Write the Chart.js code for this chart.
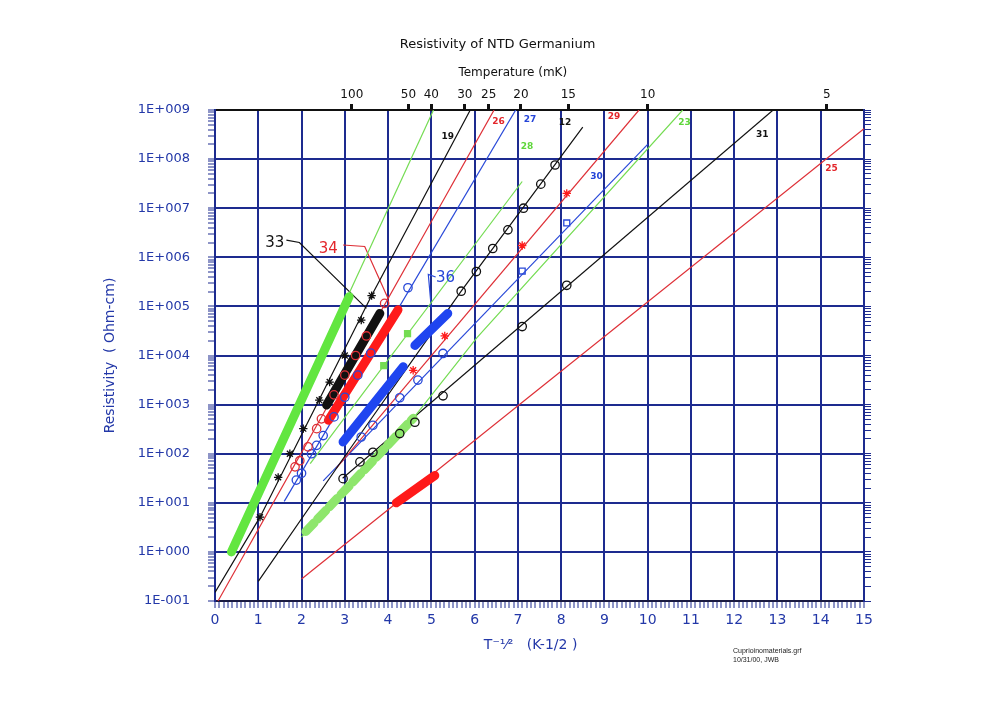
<!DOCTYPE html>
<html lang="en">
<head>
<meta charset="UTF-8">
<title>Resistivity of NTD Germanium</title>
<script src="https://cdn.jsdelivr.net/npm/chart.js"></script>
<style>
  body { margin: 0; background: #ffffff; }
  #wrap { width: 995px; height: 704px; }
</style>
</head>
<body>
<div id="wrap"><canvas id="rhoChart"></canvas></div>
<script>
// x = T^-1/2 (K^-1/2), y = resistivity (Ohm-cm)
const xTickLabels = ['0','1','2','3','4','5','6','7','8','9','10','11','12','13','14','15'];
const topTickMK = [100, 50, 40, 30, 25, 20, 15, 10, 5];
const topTickLabels = ['100','50','40','30','25','20','15','10','5'];
const yDecades = [1e-1, 1e0, 1e1, 1e2, 1e3, 1e4, 1e5, 1e6, 1e7, 1e8, 1e9];
const yTickLabels = ['1E-001','1E+000','1E+001','1E+002','1E+003','1E+004','1E+005','1E+006','1E+007','1E+008','1E+009'];

// fitted curves, [x, rho]
const fit19 = [[0.0, 0.15], [1.04, 5.1], [3.62, 1.66e5], [5.9, 1e9]];
const fitGreen = [[0.35, 1.0], [5.05, 1e9]];
const fit26 = [[0.07, 0.1], [6.45, 1e9]];
const fit27 = [[1.6, 10.7], [6.95, 1e9]];
const fit12 = [[1.0, 0.25], [2.96, 79], [5.69, 2.04e5], [8.5, 4.47e8]];
const fit28 = [[2.2, 63], [7.1, 3.5e7]];
const fit29 = [[2.8, 50], [9.8, 1e9]];
const fit30 = [[2.5, 28], [10.0, 2.0e8]];
const fit23 = [[2.0, 2.0], [4.58, 525], [6.06, 2.34e4], [10.81, 1e9]];
const fit31 = [[2.95, 31.6], [12.9, 1e9]];
const fit25 = [[2.0, 0.28], [15.0, 4.17e8]];

// dense measurement runs (drawn as thick bands)
const runGreen = [[0.38, 1.0], [3.1, 1.58e5]];
const run33 = [[2.58, 977], [3.81, 7.2e4]];
const run34 = [[2.62, 479], [4.23, 8.5e4]];
const run36a = [[2.96, 174], [4.35, 5.9e3]];
const run36b = [[4.62, 1.6e4], [5.38, 7.2e4]];
const run25 = [[4.19, 10], [5.08, 36]];
const run23 = [[2.1, 2.6], [4.58, 525]];

// single measured points
const stars19 = [[1.04, 5.1], [1.46, 33], [1.73, 100], [2.04, 324], [2.41, 1230], [2.65, 2880], [3.0, 1e4], [3.38, 5.25e4], [3.62, 1.66e5]];
const circles26 = [[1.85, 54], [1.96, 72], [2.15, 138], [2.35, 324], [2.46, 513], [2.75, 1580], [3.0, 3980], [3.25, 1e4], [3.5, 2.5e4], [3.92, 1.15e5]];
const circles27 = [[1.88, 29], [2.0, 40], [2.23, 100], [2.35, 148], [2.5, 234], [2.75, 562], [3.0, 1410], [3.3, 3980], [3.6, 1.12e4], [4.46, 2.4e5]];
const circles30 = [[3.38, 219], [3.65, 380], [4.27, 1380], [4.69, 3160], [5.27, 1.1e4]];
const squares30 = [[7.1, 5.25e5], [8.13, 5.0e6]];
const circles31 = [[2.96, 31], [3.35, 68], [3.65, 107], [4.27, 257], [4.62, 437], [5.27, 1510], [7.1, 3.89e4], [8.13, 2.69e5]];
const circles12 = [[5.69, 2.04e5], [6.04, 5.13e5], [6.42, 1.51e6], [6.77, 3.63e6], [7.13, 1e7], [7.53, 3.09e7], [7.86, 7.59e7]];
const stars29 = [[4.58, 5.0e3], [5.31, 2.5e4], [7.1, 1.74e6], [8.13, 2.0e7]];
const marks28 = [[3.9, 6.2e3], [4.45, 2.8e4]];

// leader lines for the sample callouts
const lead33 = [[1.65, 2.24e6], [1.95, 2.0e6], [3.5, 9.1e4]];
const lead34 = [[2.96, 1.78e6], [3.46, 1.66e6], [4.0, 1.45e5]];
const lead36 = [[5.1, 3.98e5], [4.93, 4.47e5], [5.0, 9.1e4]];

const curveLabels = [
  {text: '19', x: 5.38, y: 2.8e8, color: '#111111'},
  {text: '26', x: 6.55, y: 5.75e8, color: '#e3262b'},
  {text: '27', x: 7.28, y: 6.3e8, color: '#2545d8'},
  {text: '12', x: 8.09, y: 5.4e8, color: '#111111'},
  {text: '28', x: 7.21, y: 1.78e8, color: '#5ed63a'},
  {text: '29', x: 9.22, y: 7.2e8, color: '#e3262b'},
  {text: '23', x: 10.85, y: 5.4e8, color: '#5ed63a'},
  {text: '31', x: 12.65, y: 3.1e8, color: '#111111'},
  {text: '30', x: 8.82, y: 4.4e7, color: '#2545d8'},
  {text: '25', x: 14.25, y: 6.5e7, color: '#e3262b'},
  {text: '33', x: 1.38, y: 1.95e6, color: '#111111', big: true},
  {text: '34', x: 2.62, y: 1.5e6, color: '#e3262b', big: true},
  {text: '36', x: 5.33, y: 3.7e5, color: '#2545d8', big: true}
];

const NAVY = '#1d2b8f';
const TEXT_BLUE = '#2338a8';
const BLACK = '#111111', RED = '#de2f36', BRIGHT_RED = '#ff1a1a', GREEN = '#74dc52', BLUE = '#2848d8';
const PAD = '\u00a0';

const toXY = pts => pts.map(([x, y]) => ({x, y}));
function thin(pts, color) {
  return {data: toXY(pts), showLine: true, borderColor: color, borderWidth: 1.2, pointRadius: 0, order: 3};
}
function band(pts, color, dash) {
  return {data: toXY(pts), showLine: true, borderColor: color, borderWidth: 9, borderCapStyle: 'round',
    borderDash: dash || [], pointRadius: 0, order: 2};
}
function marks(pts, color, style, fill) {
  return {data: toXY(pts), showLine: false, pointStyle: style, pointRadius: 4.2,
    pointBorderColor: color, pointBackgroundColor: fill || 'rgba(0,0,0,0)', pointBorderWidth: 1.3, order: 1};
}

const isDecade = v => yDecades.includes(v);
function logTicks(axis) {
  const t = [];
  yDecades.forEach((d, i) => {
    if (i === yDecades.length - 1) { t.push({value: d}); return; }
    for (let k = 1; k <= 9; k++) t.push({value: k * d});
  });
  axis.ticks = t;
}

const labelPlugin = {
  id: 'curveLabels',
  afterDatasetsDraw(chart) {
    const {ctx, scales: {x, y}, chartArea} = chart;
    ctx.save();
    ctx.textAlign = 'center';
    ctx.textBaseline = 'middle';
    curveLabels.forEach(l => {
      ctx.font = l.big ? '15px "DejaVu Sans"' : 'bold 9px "DejaVu Sans"';
      ctx.fillStyle = l.color;
      ctx.fillText(l.text, x.getPixelForValue(l.x), y.getPixelForValue(l.y));
    });
    ctx.textAlign = 'left';
    ctx.font = '7px "Liberation Sans"';
    ctx.fillStyle = '#222222';
    ctx.fillText('Cuprioinomaterials.grf', chartArea.right - 131, chartArea.bottom + 50);
    ctx.fillText('10/31/00, JWB', chartArea.right - 131, chartArea.bottom + 59);
    ctx.restore();
  }
};

new Chart(document.getElementById('rhoChart'), {
  type: 'scatter',
  data: {
    datasets: [
      marks(stars19, BLACK, 'star'),
      marks(circles26, RED, 'circle'),
      marks(circles27, BLUE, 'circle'),
      marks(circles30, BLUE, 'circle'),
      marks(squares30, BLUE, 'rect'),
      marks(circles31, BLACK, 'circle'),
      marks(circles12, BLACK, 'circle'),
      marks(stars29, BRIGHT_RED, 'star'),
      marks(marks28, GREEN, 'rect', GREEN),
      band(runGreen, '#62e640'),
      band(run33, BLACK),
      band(run34, BRIGHT_RED),
      band(run36a, '#1f45f0'),
      band(run36b, '#1f45f0'),
      band(run25, BRIGHT_RED),
      band(run23, '#8ee66c', [12, 5]),
      thin(fit19, BLACK),
      thin(fitGreen, GREEN),
      thin(fit26, RED),
      thin(fit27, BLUE),
      thin(fit12, BLACK),
      thin(fit28, GREEN),
      thin(fit29, RED),
      thin(fit30, BLUE),
      thin(fit23, GREEN),
      thin(fit31, BLACK),
      thin(fit25, RED),
      thin(lead33, BLACK),
      thin(lead34, RED),
      thin(lead36, BLUE)
    ]
  },
  options: {
    responsive: true,
    maintainAspectRatio: false,
    animation: false,
    layout: {padding: 0},
    plugins: {
      legend: {display: false},
      tooltip: {enabled: false},
      title: {
        display: true,
        text: 'Resistivity of NTD Germanium',
        color: '#111111',
        font: {family: 'DejaVu Sans', size: 13, weight: 'normal'},
        padding: {top: 37, bottom: 5.4}
      }
    },
    scales: {
      x: {
        type: 'linear',
        position: 'bottom',
        min: 0,
        max: 15,
        afterBuildTicks: axis => {
          const t = [];
          for (let i = 0; i <= 150; i++) t.push({value: i / 10});
          axis.ticks = t;
        },
        afterFit: s => { s.height = 103; },
        ticks: {
          autoSkip: false,
          maxRotation: 0,
          padding: 4,
          color: TEXT_BLUE,
          font: {family: 'DejaVu Sans', size: 14},
          callback: v => Number.isInteger(v) ? xTickLabels[v] : ''
        },
        grid: {
          color: c => c.tick && Number.isInteger(c.tick.value) ? NAVY : 'rgba(0,0,0,0)',
          lineWidth: 2,
          tickColor: NAVY,
          tickWidth: 1,
          tickLength: 7
        },
        border: {color: '#1a1a40', width: 2},
        title: {
          display: true,
          text: 'T⁻¹⁄²   (K-1/2 )' + PAD.repeat(4),
          color: TEXT_BLUE,
          font: {family: 'DejaVu Sans', size: 14},
          padding: {top: 0, bottom: 50}
        }
      },
      x2: {
        type: 'linear',
        position: 'top',
        min: 0,
        max: 15,
        afterBuildTicks: axis => {
          axis.ticks = topTickMK.map(mk => ({value: 1 / Math.sqrt(mk / 1000)}));
        },
        afterFit: s => { s.height = 52; },
        ticks: {
          autoSkip: false,
          maxRotation: 0,
          padding: 2,
          color: '#111111',
          font: {family: 'DejaVu Sans', size: 12},
          callback: (v, i) => topTickLabels[i]
        },
        grid: {drawOnChartArea: false, tickColor: '#111111', tickWidth: 3, tickLength: 6},
        border: {color: '#111111', width: 2},
        title: {
          display: true,
          text: 'Temperature (mK)' + PAD.repeat(14),
          color: '#111111',
          font: {family: 'DejaVu Sans', size: 12},
          padding: {top: 8, bottom: 0}
        }
      },
      y: {
        type: 'logarithmic',
        position: 'left',
        min: 1e-1,
        max: 1e9,
        afterBuildTicks: logTicks,
        afterFit: s => { s.width = 215; },
        ticks: {
          autoSkip: false,
          padding: 18,
          color: TEXT_BLUE,
          font: {family: 'DejaVu Sans', size: 13},
          callback: v => isDecade(v) ? yTickLabels[yDecades.indexOf(v)] : ''
        },
        grid: {
          color: c => c.tick && isDecade(c.tick.value) ? NAVY : 'rgba(0,0,0,0)',
          lineWidth: 2,
          tickColor: NAVY,
          tickWidth: 1,
          tickLength: 7
        },
        border: {color: NAVY, width: 2},
        title: {
          display: true,
          text: 'Resistivity  ( Ohm-cm)',
          color: TEXT_BLUE,
          font: {family: 'DejaVu Sans', size: 14},
          padding: {top: 102, bottom: 0}
        }
      },
      y2: {
        type: 'logarithmic',
        position: 'right',
        min: 1e-1,
        max: 1e9,
        afterBuildTicks: logTicks,
        afterFit: s => { s.width = 131; },
        ticks: {display: false},
        grid: {drawOnChartArea: false, tickColor: NAVY, tickWidth: 1, tickLength: 7},
        border: {color: NAVY, width: 2}
      }
    }
  },
  plugins: [labelPlugin]
});
</script>
</body>
</html>
